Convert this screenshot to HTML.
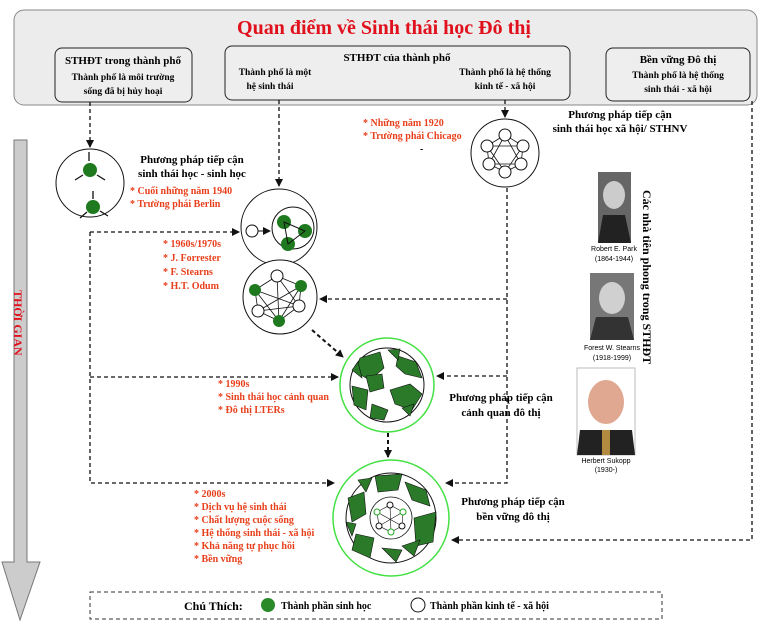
<!DOCTYPE html>
<html><head><meta charset="utf-8"><style>
html,body{margin:0;padding:0;background:#fff}
svg{display:block}
text{font-family:"Liberation Serif","DejaVu Serif",serif;font-weight:bold}
.r{fill:#e8401c}
.s{font-family:"Liberation Sans",sans-serif;font-weight:normal;font-size:7px}
</style></head><body>
<svg width="768" height="629" viewBox="0 0 768 629" xmlns="http://www.w3.org/2000/svg">
<defs>
<marker id="a" markerWidth="8" markerHeight="8" refX="7" refY="4" orient="auto" markerUnits="userSpaceOnUse"><path d="M0,0 L8,4 L0,8z" fill="#111"/></marker>
</defs>
<rect x="14" y="10" width="743" height="95" rx="10" fill="#ececec" stroke="#888"/>
<text x="384" y="34" text-anchor="middle" font-size="20" fill="#e0101c">Quan điểm về Sinh thái học Đô thị</text>
<rect x="55" y="48" width="137" height="54" rx="7" fill="#eee" stroke="#222"/>
<text x="123" y="64" text-anchor="middle" font-size="11">STHĐT trong thành phố</text>
<text x="123" y="80" text-anchor="middle" font-size="9.5">Thành phố là môi trường</text>
<text x="123" y="94" text-anchor="middle" font-size="9.5">sống đã bị hủy hoại</text>
<rect x="225" y="46" width="345" height="54" rx="7" fill="#eee" stroke="#222"/>
<text x="397" y="61" text-anchor="middle" font-size="11">STHĐT của thành phố</text>
<text x="275" y="75" text-anchor="middle" font-size="9.5">Thành phố là một</text>
<text x="270" y="89" text-anchor="middle" font-size="9.5">hệ sinh thái</text>
<text x="505" y="75" text-anchor="middle" font-size="9.5">Thành phố là hệ thống</text>
<text x="505" y="89" text-anchor="middle" font-size="9.5">kinh tế - xã hội</text>
<rect x="606" y="48" width="144" height="53" rx="7" fill="#eee" stroke="#222"/>
<text x="678" y="63" text-anchor="middle" font-size="11">Bền vững Đô thị</text>
<text x="678" y="78" text-anchor="middle" font-size="9.5">Thành phố là hệ thống</text>
<text x="678" y="92" text-anchor="middle" font-size="9.5">sinh thái -  xã hội</text>

<path d="M12,140 H25 V562 H38 L18,620 L0,562 H12 Z" fill="#ccc" stroke="#777" transform="translate(2,0)"/>
<text transform="translate(14,290) rotate(90)" font-size="12" fill="#e0101c">THỜI GIAN</text>

<g stroke="#111" stroke-width="1.3" stroke-dasharray="4,3" fill="none">
<path d="M90,102 V147" marker-end="url(#a)"/>
<path d="M279,100 V186" marker-end="url(#a)"/>
<path d="M505,100 V117" marker-end="url(#a)"/>
<path d="M90,232 H239" marker-end="url(#a)"/>
<path d="M90,232 V483 H334" marker-end="url(#a)"/>
<path d="M90,377 H338" marker-end="url(#a)"/>
<path d="M507,188 V483 H446" marker-end="url(#a)"/>
<path d="M507,299 H320" marker-end="url(#a)"/>
<path d="M507,376 H437" marker-end="url(#a)"/>
<path d="M752,101 V540 H452" marker-end="url(#a)"/>
<path d="M312,330 L343,357" stroke-width="2" marker-end="url(#a)"/>
<path d="M388,433 V457" stroke-width="2" marker-end="url(#a)"/>
</g>

<circle cx="90" cy="183" r="34" fill="#fff" stroke="#111"/>
<circle cx="90" cy="170" r="7" fill="#1f7a1f"/>
<circle cx="93" cy="207" r="7" fill="#1f7a1f"/>
<g stroke="#111" stroke-width="1.3"><path d="M89,152 V161 M75,180 L83,175 M105,180 L97,175 M93,191 V199 M80,218 L87,212 M108,216 L100,211"/></g>
<text x="192" y="163" text-anchor="middle" font-size="11">Phương pháp tiếp cận</text>
<text x="192" y="177" text-anchor="middle" font-size="11">sinh thái học - sinh học</text>
<text x="130" y="194" font-size="10" class="r">* Cuối những năm 1940</text>
<text x="130" y="207" font-size="10" class="r">* Trường phái Berlin</text>

<circle cx="279" cy="227" r="38" fill="#fff" stroke="#111"/>
<circle cx="293" cy="228" r="21" fill="#fff" stroke="#111"/>
<circle cx="252" cy="231" r="6" fill="#fff" stroke="#111"/>
<path d="M258,231 H270" stroke="#111" marker-end="url(#a)"/>
<circle cx="284" cy="222" r="7" fill="#1f7a1f"/><circle cx="305" cy="231" r="7" fill="#1f7a1f"/><circle cx="288" cy="244" r="7" fill="#1f7a1f"/>
<path d="M284,222 L305,231 L288,244 Z" stroke="#111" fill="none"/>
<circle cx="280" cy="297" r="37" fill="#fff" stroke="#111"/>
<g stroke="#111" stroke-width="0.8" fill="none"><path d="M277,276 L301,286 L299,306 L279,321 L258,311 L255,290 Z M277,276 L299,306 L258,311 L301,286 L279,321 L255,290 Z M277,276 L279,321 M301,286 L258,311 M255,290 L299,306"/></g>
<circle cx="277" cy="276" r="6" fill="#fff" stroke="#111"/><circle cx="301" cy="286" r="6" fill="#1f7a1f"/><circle cx="299" cy="306" r="6" fill="#fff" stroke="#111"/>
<circle cx="279" cy="321" r="6" fill="#1f7a1f"/><circle cx="258" cy="311" r="6" fill="#fff" stroke="#111"/><circle cx="255" cy="290" r="6" fill="#1f7a1f"/>
<text x="163" y="247" font-size="10" class="r">* 1960s/1970s</text>
<text x="163" y="261" font-size="10" class="r">* J. Forrester</text>
<text x="163" y="275" font-size="10" class="r">* F. Stearns</text>
<text x="163" y="289" font-size="10" class="r">* H.T. Odum</text>

<text x="363" y="126" font-size="10" class="r">* Những năm 1920</text>
<text x="363" y="139" font-size="10" class="r">* Trường phái Chicago</text>
<text x="420" y="152" font-size="10">-</text>
<circle cx="505" cy="153" r="34" fill="#fff" stroke="#111"/>
<g stroke="#111" stroke-width="0.8" fill="none"><path d="M505,135 L523,146 L521,164 L505,172 L489,164 L487,146 Z M505,135 L521,164 L489,164 Z M523,146 L505,172 L487,146 Z"/></g>
<circle cx="505" cy="135" r="6" fill="#fff" stroke="#111"/><circle cx="523" cy="146" r="6" fill="#fff" stroke="#111"/><circle cx="521" cy="164" r="6" fill="#fff" stroke="#111"/>
<circle cx="505" cy="172" r="6" fill="#fff" stroke="#111"/><circle cx="489" cy="164" r="6" fill="#fff" stroke="#111"/><circle cx="487" cy="146" r="6" fill="#fff" stroke="#111"/>
<text x="620" y="118" text-anchor="middle" font-size="11">Phương pháp tiếp cận</text>
<text x="620" y="132" text-anchor="middle" font-size="11">sinh thái học xã hội/ STHNV</text>

<rect x="598" y="172" width="33" height="71" fill="#666"/><ellipse cx="614" cy="195" rx="11" ry="14" fill="#ccc"/><path d="M598,243 L603,215 L625,215 L631,243Z" fill="#222"/>
<text x="614" y="251" text-anchor="middle" class="s">Robert E. Park</text><text x="614" y="261" text-anchor="middle" class="s">(1864-1944)</text>
<rect x="590" y="273" width="44" height="67" fill="#777"/><ellipse cx="612" cy="298" rx="13" ry="16" fill="#d0d0d0"/><path d="M590,340 L596,317 L628,317 L634,340Z" fill="#333"/>
<text x="612" y="350" text-anchor="middle" class="s">Forest W. Stearns</text><text x="612" y="360" text-anchor="middle" class="s">(1918-1999)</text>
<rect x="577" y="368" width="58" height="87" fill="#fff" stroke="#bbb"/><ellipse cx="606" cy="402" rx="18" ry="22" fill="#e0a890"/><path d="M577,455 L580,430 L632,430 L635,455Z" fill="#222"/><rect x="602" y="430" width="8" height="25" fill="#b38b40"/>
<text x="606" y="463" text-anchor="middle" class="s">Herbert Sukopp</text><text x="606" y="472" text-anchor="middle" class="s">(1930-)</text>
<text transform="translate(643,190) rotate(90)" font-size="12">Các nhà tiên phong trong STHĐT</text>

<!-- circle 3 -->
<circle cx="387" cy="385" r="47" fill="#fff" stroke="#44e044" stroke-width="1.5"/>
<circle cx="387" cy="385" r="37" fill="#fff" stroke="#111"/>
<g fill="#2a7a2a" stroke="#111" stroke-width="0.6">
<path d="M360,358 L380,352 L384,368 L370,380 L355,372Z"/><path d="M398,356 L416,362 L422,378 L405,374 L396,366Z"/><path d="M352,386 L368,390 L366,410 L354,405Z"/>
<path d="M390,390 L410,384 L422,394 L412,410 L395,404Z"/><path d="M372,404 L388,410 L384,420 L370,418Z"/><path d="M388,350 L400,349 L398,360Z"/>
<path d="M366,376 L382,374 L384,388 L370,392Z"/><path d="M402,408 L414,404 L410,416Z"/><path d="M352,370 L358,362 L362,378Z"/>
</g>
<text x="501" y="401" text-anchor="middle" font-size="11">Phương pháp tiếp cận</text>
<text x="501" y="416" text-anchor="middle" font-size="11">cảnh quan đô thị</text>
<text x="218" y="387" font-size="10" class="r">* 1990s</text>
<text x="218" y="400" font-size="10" class="r">* Sinh thái học cảnh quan</text>
<text x="218" y="413" font-size="10" class="r">* Đô thị LTERs</text>

<!-- circle 4 -->
<circle cx="391" cy="518" r="58" fill="#fff" stroke="#44e044" stroke-width="1.5"/>
<circle cx="391" cy="518" r="45" fill="#fff" stroke="#111"/>
<g fill="#2a7a2a" stroke="#111" stroke-width="0.6">
<path d="M375,476 L402,474 L398,490 L378,492Z"/><path d="M405,482 L426,490 L430,506 L412,500Z"/><path d="M348,498 L364,492 L366,514 L352,522Z"/>
<path d="M414,518 L436,512 L433,542 L416,546Z"/><path d="M356,534 L374,538 L370,558 L352,550Z"/><path d="M382,548 L402,550 L396,562 Z"/><path d="M358,480 L372,478 L366,492Z"/>
<path d="M402,546 L420,540 L414,556Z"/><path d="M346,522 L356,524 L352,536Z"/>
</g>
<circle cx="391" cy="518" r="21" fill="#fff" stroke="#111" stroke-width="0.8"/>
<g stroke="#111" stroke-width="0.6" fill="none"><path d="M390,505 L403,512 L402,526 L391,532 L379,526 L377,512 Z M390,505 L391,532 M403,512 L379,526 M377,512 L402,526"/></g>
<circle cx="390" cy="505" r="3" fill="#fff" stroke="#111"/><circle cx="403" cy="512" r="3" fill="#fff" stroke="#2a2"/><circle cx="402" cy="526" r="3" fill="#fff" stroke="#111"/><circle cx="391" cy="532" r="3" fill="#fff" stroke="#2a2"/><circle cx="379" cy="526" r="3" fill="#fff" stroke="#111"/><circle cx="377" cy="512" r="3" fill="#fff" stroke="#2a2"/>
<text x="513" y="505" text-anchor="middle" font-size="11">Phương pháp tiếp cận</text>
<text x="513" y="520" text-anchor="middle" font-size="11">bền vững đô thị</text>
<g font-size="10">
<text x="194" y="497" class="r">* 2000s</text>
<text x="194" y="510" class="r">* Dịch vụ hệ sinh thái</text>
<text x="194" y="523" class="r">* Chất lượng cuộc sống</text>
<text x="194" y="536" class="r">* Hệ thống sinh thái - xã hội</text>
<text x="194" y="549" class="r">* Khả năng tự phục hồi</text>
<text x="194" y="562" class="r">* Bền vững</text>
</g>

<rect x="90" y="592" width="572" height="27" fill="none" stroke="#333" stroke-dasharray="4,3"/>
<text x="184" y="610" font-size="12">Chú Thích:</text>
<circle cx="268" cy="605" r="7" fill="#2a8a2a"/>
<text x="281" y="609" font-size="10">Thành phần sinh học</text>
<circle cx="418" cy="605" r="7" fill="#fff" stroke="#111"/>
<text x="430" y="609" font-size="10">Thành phần kinh tế - xã hội</text>
</svg>
</body></html>
